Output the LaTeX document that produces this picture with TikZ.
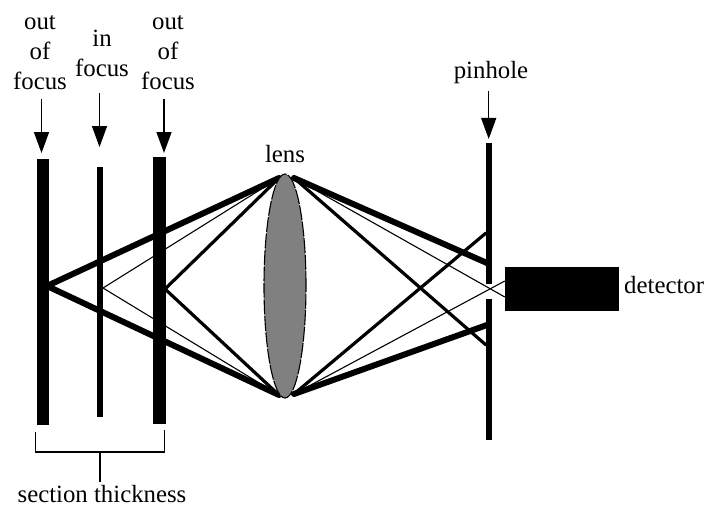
\documentclass[tikz,border=0pt]{standalone}
\usepackage{fontspec}
\setmainfont{Liberation Serif}
\usetikzlibrary{arrows.meta,shapes.geometric}
\tikzset{
  px/.style={x=1pt,y=-1pt},
  lbl/.style={font=\fontsize{24.8}{30}\selectfont,align=center,inner sep=0pt,text=black},
  bar/.style={fill=black,draw=none,inner sep=0pt,minimum width=#1},
  pointer/.style={line width=1.5pt,-{Triangle[width=15pt,length=21pt]}},
  thick ray/.style={line width=6pt,line cap=round},
  mid ray/.style={line width=3.2pt,line cap=round},
  thin ray/.style={line width=1.1pt},
  bracket/.style={line width=1.5pt}
}
\begin{document}
\begin{tikzpicture}[px]
\useasboundingbox (0,0) rectangle (706,508);
\fill[white] (0,0) rectangle (706,508);
% anchor coordinates
\coordinate (f1) at (47,286);
\coordinate (f2) at (103,288);
\coordinate (f3) at (165,289);
\coordinate (lt) at (279,178);
\coordinate (lb) at (279,395);
\coordinate (rt) at (294,178);
\coordinate (rb) at (294,394);
% rays
\draw[thick ray] (f1) -- (lt);
\draw[thick ray] (f1) -- (lb);
\draw[mid ray] (f3) -- (lt);
\draw[mid ray] (f3) -- (lb);
\draw[thin ray] (f2) -- (lt);
\draw[thin ray] (f2) -- (lb);
% lens
\node[ellipse,draw=black,line width=1.1pt,dash pattern=on 15pt off 1.5pt,fill=gray,minimum width=42pt,minimum height=224pt,inner sep=0pt] (lens) at (285,286) {};
% bars
\node[bar=12.5pt,minimum height=266pt] (b1) at (42.75,292) {};
\node[bar=6pt,minimum height=250pt] (b2) at (100,292) {};
\node[bar=12.5pt,minimum height=266.5pt] (b3) at (159.25,290.25) {};
\node[bar=6pt,minimum height=141pt] (p1) at (489,213) {};
\node[bar=6pt,minimum height=141pt] (p2) at (489,369.5) {};
\node[fill=black,inner sep=0pt,minimum width=114pt,minimum height=44pt] (det) at (562,289) {};
% right rays
\coordinate (pt) at (487,263);
\coordinate (pb) at (487,325);
\coordinate (mt) at (486,233);
\coordinate (mb) at (486,345);
\coordinate (dt) at (det.west |- 0,297);
\coordinate (db) at (det.west |- 0,281);
\draw[thick ray] (rt) -- (pt);
\draw[thick ray] (rb) -- (pb);
\draw[mid ray] (rt) -- (mb);
\draw[mid ray] (rb) -- (mt);
\draw[thin ray] (rt) -- (dt);
\draw[thin ray] (rb) -- (db);
% labels
\node[lbl] (t1) at (40,53) {out\\of\\focus};
\node[lbl] (t2) at (102,53) {in\\focus};
\node[lbl] (t3) at (168,53) {out\\of\\focus};
\node[lbl] (t4) at (285,154) {lens};
\node[lbl] (t5) at (491,73) {pinhole};
\node[lbl,anchor=west] (t6) at (624,285) {detector};
\node[lbl] (t7) at (102,494) {section thickness};
% pointers
\coordinate (a1) at (41.5,99); \coordinate (a1e) at (41.5,153);
\coordinate (a2) at (99.5,93); \coordinate (a2e) at (99.5,147);
\coordinate (a3) at (164,99); \coordinate (a3e) at (164,153);
\coordinate (a4) at (488.7,91); \coordinate (a4e) at (488.7,139);
\draw[pointer] (a1) -- (a1e);
\draw[pointer] (a2) -- (a2e);
\draw[pointer] (a3) -- (a3e);
\draw[pointer] (a4) -- (a4e);
% bracket
\coordinate (bl) at (35.5,432);
\coordinate (br) at (164.5,430);
\coordinate (bm) at (100,452);
\coordinate (bt) at (100,482);
\draw[bracket] (bl) -- (35.5,452) -- (164.5,452) -- (br);
\draw[bracket] (bm) -- (bt);
\end{tikzpicture}
\end{document}
